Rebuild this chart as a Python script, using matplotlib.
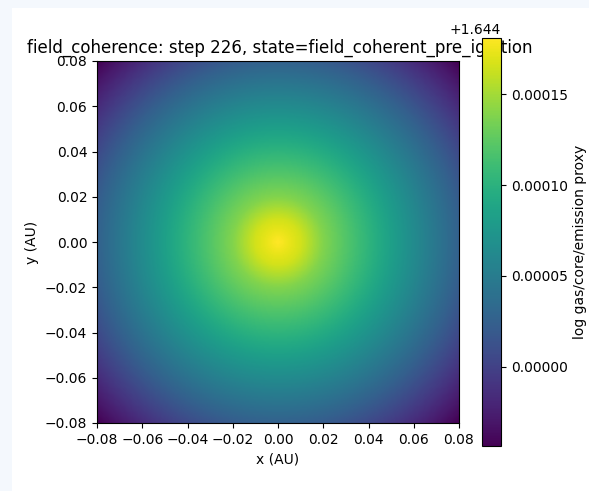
import numpy as np
import matplotlib
matplotlib.use("Agg")
from matplotlib import pyplot as plt
from matplotlib.patches import Rectangle
from matplotlib.ticker import ScalarFormatter, MultipleLocator

# radial profile (log proxy vs distance from centre, AU)
radius_au = [0.0, 0.01, 0.02, 0.04, 0.06, 0.08, 0.1131]
log_proxy = [1.6441817, 1.6441659, 1.6441387, 1.6441026, 1.6440641, 1.6440257, 1.6439556]

extent_au = 0.08
n_px = 300

edges = np.linspace(-extent_au, extent_au, n_px + 1)
centers = 0.5 * (edges[:-1] + edges[1:])
xx, yy = np.meshgrid(centers, centers)
rr = np.hypot(xx, yy)
field = np.interp(rr, radius_au, log_proxy)

fig = plt.figure(figsize=(5.89, 4.91), dpi=100)
fig.patch.set_facecolor("white")
# light frame visible around the screenshot
fig.patches.append(Rectangle((0, 0), 12 / 589, 1, transform=fig.transFigure,
                             facecolor="#f4f8fd", edgecolor="none", zorder=-1))
fig.patches.append(Rectangle((0, 1 - 8 / 491), 1, 8 / 491, transform=fig.transFigure,
                             facecolor="#f4f8fd", edgecolor="none", zorder=-1))

ax = fig.add_axes([97 / 589, 68 / 491, 362 / 589, 362 / 491])
im = ax.imshow(field, origin="lower", cmap="viridis",
               extent=[-extent_au, extent_au, -extent_au, extent_au])
ax.set_xlabel("x (AU)")
ax.set_ylabel("y (AU)")
ax.set_title("field_coherence: step 226, state=field_coherent_pre_ignition", x=0.505)

cax = fig.add_axes([482 / 589, 45 / 491, 19 / 589, 408 / 491])
cb = fig.colorbar(im, cax=cax)
fmt = ScalarFormatter(useOffset=1.644)
cb.ax.yaxis.set_major_formatter(fmt)
cb.ax.yaxis.set_major_locator(MultipleLocator(0.00005))
cb.set_label("log gas/core/emission proxy")

fig.savefig("out.png", dpi=100)
